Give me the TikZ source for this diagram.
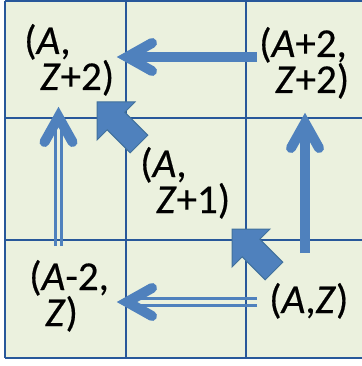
\documentclass[tikz,border=0pt]{standalone}
\usepackage{fontspec}
\setmainfont{Carlito}
\newfontfamily\lblfont{Carlito}[FakeBold=0.4]
\usetikzlibrary{calc}
\definecolor{bgc}{HTML}{EBF1DE}
\definecolor{gridc}{HTML}{28589A}
\definecolor{arrc}{HTML}{4F81BD}
\definecolor{arrd}{HTML}{41719C}
\tikzset{
  lbl/.style={anchor=base west, inner sep=0pt, font=\lblfont\fontsize{41}{36}\selectfont},
  gridline/.style={draw=gridc, line width=2pt},
  shaft/.style={draw=arrc, line width=10pt, line cap=butt},
  thinshaft/.style={draw=arrc, line width=2.5pt, line cap=butt},
  barb/.style={draw=arrc, line width=10pt, line cap=round, line join=miter},
  blockarrow/.style={fill=arrc, draw=arrd, line width=1pt, line join=miter}
}
\newcommand{\twoline}[2]{\vtop{\hbox{#1}\hbox{\hspace{16pt}#2}}}
\begin{document}
\begin{tikzpicture}[x=1pt,y=-1pt]
\useasboundingbox (0,0) rectangle (361,366);
% background and grid
\fill[bgc] (5,1) rectangle (366,358);
\foreach \gx in {5,125.5,246} {\draw[gridline] (\gx,1) -- (\gx,358);}
\foreach \gy in {1,118,239.5,358} {\draw[gridline] (5,\gy) -- (366,\gy);}
% labels
\node[lbl] (tl) at (24,54) {\twoline{(\textit{A},}{\textit{Z}+2)}};
\node[lbl] (tr) at (259,57) {\twoline{(\textit{A}+2,}{\textit{Z}+2)}};
\node[lbl] (mid) at (140,177) {\twoline{(\textit{A},}{\textit{Z}+1)}};
\node[lbl] (bl) at (29,290) {\twoline{(\textit{A}-2,}{\textit{Z})}};
\node[lbl] (br) at (269,313) {(\textit{A},\textit{Z})};
% arrow end points
\coordinate (a1s) at (257,57);
\coordinate (a1e) at (127,57);
\coordinate (a2s) at (305,253);
\coordinate (a2e) at (305,123);
\coordinate (a3s) at (58.5,246);
\coordinate (a3e) at (58.5,117);
\coordinate (a4s) at (257,302);
\coordinate (a4e) at (127,302);
% top arrow: (A+2,Z+2) -> (A,Z+2)
\draw[shaft] (a1s) -- ($(a1e)+(5,0)$);
\draw[barb] ($(a1e)+(25,-14)$) -- (a1e) -- ($(a1e)+(25,14)$);
% right arrow: (A,Z) -> (A+2,Z+2)
\draw[shaft] (a2s) -- ($(a2e)+(0,5)$);
\draw[barb] ($(a2e)+(-14,25)$) -- (a2e) -- ($(a2e)+(14,25)$);
% left double arrow: (A-2,Z) -> (A,Z+2)
\draw[thinshaft] ($(a3s)+(-3,0)$) -- ($(a3e)+(-3,8)$);
\draw[thinshaft] ($(a3s)+(3,0)$) -- ($(a3e)+(3,8)$);
\draw[barb] ($(a3e)+(-14,25)$) -- (a3e) -- ($(a3e)+(14,25)$);
% bottom double arrow: (A,Z) -> (A-2,Z)
\draw[thinshaft] ($(a4s)+(0,-3.5)$) -- ($(a4e)+(8,-3.5)$);
\draw[thinshaft] ($(a4s)+(0,3.5)$) -- ($(a4e)+(8,3.5)$);
\draw[barb] ($(a4e)+(25,-14)$) -- (a4e) -- ($(a4e)+(25,14)$);
% block arrows
\draw[blockarrow] (97,102) -- (135,102) -- (124.8,112.2) -- (147.8,135.2) -- (130.2,152.8) -- (107.2,129.8) -- (97,140) -- cycle;
\draw[blockarrow] (232,229) -- (270,229) -- (259.8,239.2) -- (282.8,262.2) -- (265.2,279.8) -- (242.2,256.8) -- (232,267) -- cycle;
\end{tikzpicture}
\end{document}
